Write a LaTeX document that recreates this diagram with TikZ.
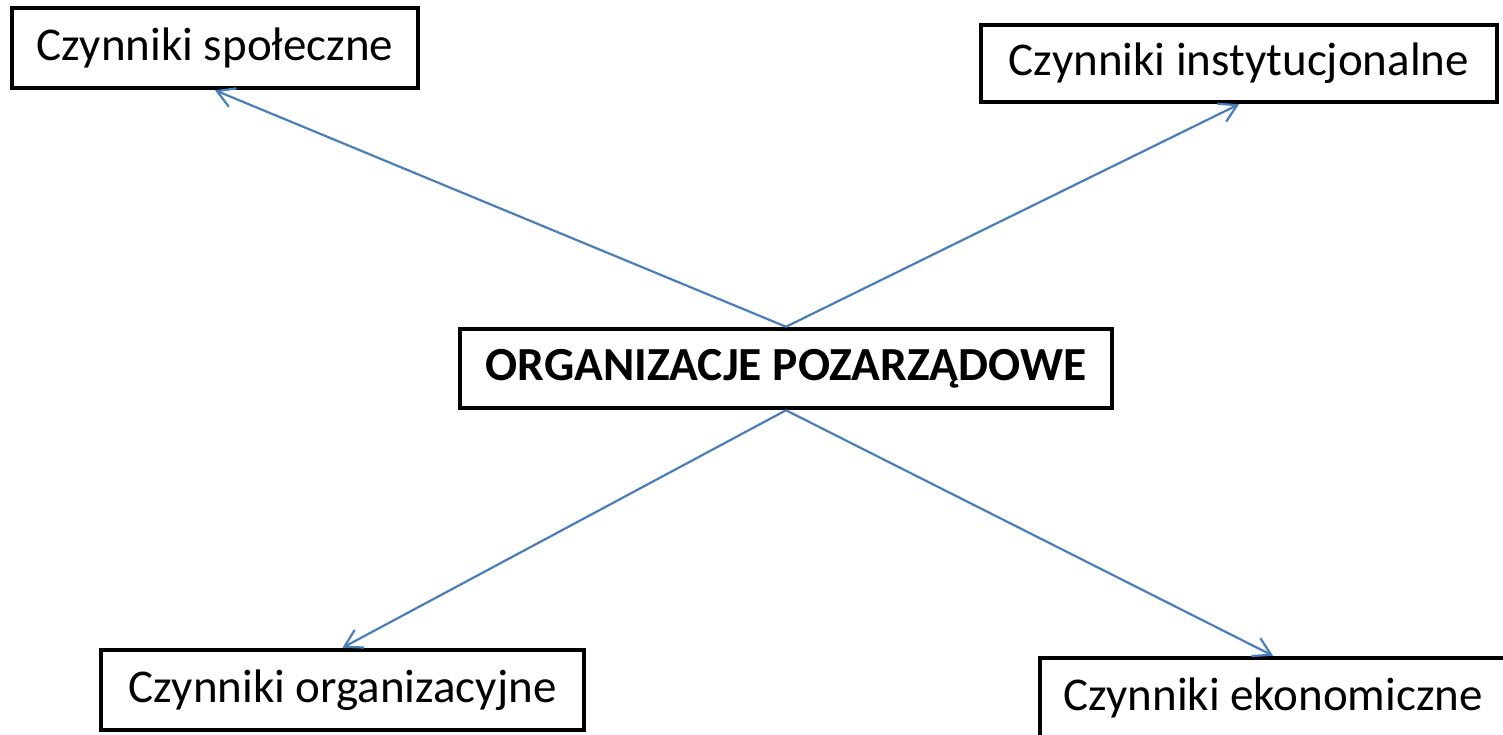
\documentclass[tikz,border=0pt]{standalone}
\usepackage{fontspec}
\setmainfont{Carlito}
\usetikzlibrary{arrows.meta}
\definecolor{linkblue}{HTML}{4A7EBB}
\begin{document}
\begin{tikzpicture}[x=1pt,y=-1pt,
  factor/.style={draw=black, line width=4.5pt, rectangle, inner sep=0pt,
    font=\fontsize{47}{56}\selectfont, text=black},
  link/.style={draw=linkblue, line width=2.2pt,
    -{Straight Barb[length=17pt,width=20pt]}}]
\useasboundingbox (0,0) rectangle (1503,734);
\node[factor, minimum width=406pt, minimum height=80pt] (spol) at (215,48) {Czynniki społeczne};
\node[factor, minimum width=516pt, minimum height=77pt] (inst) at (1239,63.5) {Czynniki instytucjonalne};
\node[factor, minimum width=652pt, minimum height=79pt, font=\fontsize{47.5}{56}\selectfont\bfseries] (ngo) at (786,368.5) {ORGANIZACJE POZARZĄDOWE};
\node[factor, minimum width=483pt, minimum height=80pt] (org) at (342.5,690) {Czynniki organizacyjne};
\node[factor, minimum width=466pt, minimum height=80pt] (eko) at (1273,698) {Czynniki ekonomiczne};
\draw[link] (ngo.north) -- (spol.south);
\draw[link] (ngo.north) -- (inst.south);
\draw[link] (ngo.south) -- (org.north);
\draw[link] (ngo.south) -- (eko.north);
\end{tikzpicture}
\end{document}
